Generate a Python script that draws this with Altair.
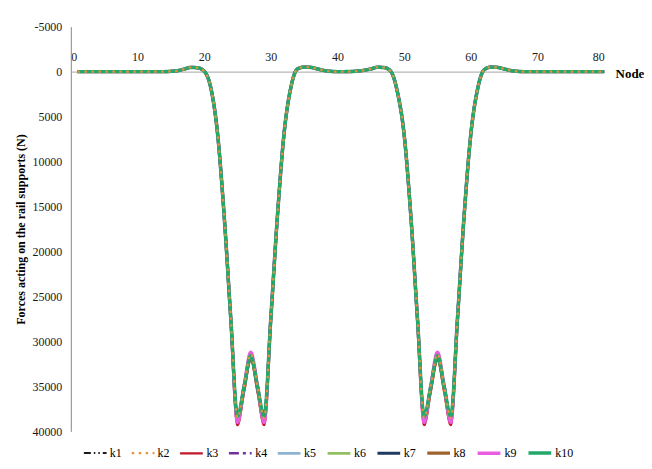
import altair as alt
import pandas as pd

# ---- data ----
nodes = list(range(1, 81))

# common force profile at every node (N); the wheel zones are per series below
force_base = [
    0, 0, 0, 0, 0, 0, 0, 0, 0, 0,            # 1-10
    0, 0, 0, 0, -30, -100, -280, -470, -430, -50,   # 11-20
    1800, 6800, 16000, 27500, 38700, 35000, 31500, 35000, 38700, 27500,  # 21-30
    16000, 6800, 1800, -300, -500, -470, -300, -120, -30, 0,  # 31-40
    0, -10, -60, -150, -300, -480, -450, -30, 2300, 7000,     # 41-50
    16000, 27500, 38700, 35000, 31500, 35000, 38700, 27500, 16000, 7000,  # 51-60
    2000, -200, -500, -470, -300, -120, -30, 0, 0, 0,         # 61-70
    0, 0, 0, 0, 0, 0, 0, 0, 0, 0,            # 71-80
]

# nodes under the two bogies, where the series differ
w_nodes_1 = [24, 25, 26, 27, 28, 29, 30]
w_nodes_2 = [52, 53, 54, 55, 56, 57, 58]

k1_w = [27500, 38700, 35000, 31500, 35000, 38700, 27500]
k2_w = [27400, 38500, 34900, 31400, 34900, 38500, 27400]
k3_w = [27800, 39300, 35600, 32000, 35600, 39300, 27800]
k4_w = [27300, 38800, 34800, 31200, 34800, 38800, 27300]
k5_w = [27500, 38600, 35000, 31500, 35000, 38600, 27500]
k6_w = [27400, 38400, 34900, 31500, 34900, 38400, 27400]
k7_w = [27500, 38600, 35000, 31600, 35000, 38600, 27500]
k8_w = [27600, 38900, 35200, 31700, 35200, 38900, 27600]
k9_w = [27400, 39000, 34900, 31200, 34900, 39000, 27400]
k10_w = [27500, 38300, 35000, 31600, 35000, 38300, 27500]

series_names = ["k1", "k2", "k3", "k4", "k5", "k6", "k7", "k8", "k9", "k10"]
series_w = [k1_w, k2_w, k3_w, k4_w, k5_w, k6_w, k7_w, k8_w, k9_w, k10_w]
series_colors = ["#1c1c1c", "#e8913e", "#c0182a", "#7030a0", "#8cb4d2",
                 "#92c060", "#1f3a5f", "#a0622d", "#e95ee0", "#22a86a"]
series_widths = [2, 3.5, 3, 4, 1.5, 1.5, 1.5, 1.5, 2, 2]
series_dashes = [[7, 3, 1.5, 3, 1.5, 3], [2.5, 4.5], [1, 0], [10, 4, 3, 4], [1, 0],
                 [1, 0], [1, 0], [1, 0], [1, 0], [1, 0]]

y_ticks = [-5000, 0, 5000, 10000, 15000, 20000, 25000, 30000, 35000, 40000]
x_ticks = [0, 10, 20, 30, 40, 50, 60, 70, 80]

# drawing order (k2 dots drawn on top, as in the reference)
draw_order = ["k1", "k3", "k4", "k5", "k6", "k7", "k8", "k9", "k10", "k2"]

rows = []
for name in draw_order:
    w = series_w[series_names.index(name)]
    override = dict(zip(w_nodes_1, w))
    override.update(dict(zip(w_nodes_2, w)))
    for n, v in zip(nodes, force_base):
        rows.append({"node": n, "force": override.get(n, v), "series": name})
df = pd.DataFrame(rows)

FONT = "Liberation Serif"
W, H = 535, 406
y_min, y_max = -5000, 40000
zero_offset = H * (0 - y_min) / (y_max - y_min)

legend = alt.Legend(
    title=None, orient="none", legendX=12, legendY=414, direction="horizontal",
    symbolType="stroke", symbolSize=520, labelFont=FONT, labelFontSize=12,
    labelColor="#000000", labelOffset=2, columnPadding=5, padding=0,
)

chart = alt.Chart(df).mark_line(interpolate="monotone", clip=False).encode(
    x=alt.X(
        "node:Q",
        scale=alt.Scale(domain=[0, 80], nice=False, zero=False),
        axis=alt.Axis(
            orient="top", values=x_ticks, offset=-zero_offset, ticks=False,
            grid=False, domainColor="#a6a6a6", domainWidth=1, labelPadding=8,
            labelFont=FONT, labelFontSize=12, labelColor="#1a1a1a",
            title="Node", titleFont=FONT, titleFontSize=13, titleFontWeight="bold",
            titleColor="#000000", titleX=W + 11, titleY=2, titleAlign="left",
            titleBaseline="middle", titleAngle=0, zindex=0,
        ),
    ),
    y=alt.Y(
        "force:Q",
        scale=alt.Scale(domain=[y_min, y_max], reverse=True, nice=False, zero=False),
        axis=alt.Axis(
            values=y_ticks, labelExpr="'' + datum.value", ticks=False, grid=False,
            domainColor="#868686", domainWidth=1, labelPadding=9,
            labelFont=FONT, labelFontSize=12, labelColor="#1a1a1a",
            title="Forces acting on the rail supports (N)", titleFont=FONT,
            titleFontSize=12, titleFontWeight="bold", titleColor="#000000",
            titlePadding=4,
        ),
    ),
    color=alt.Color("series:N", scale=alt.Scale(domain=series_names, range=series_colors), legend=legend),
    strokeDash=alt.StrokeDash("series:N", scale=alt.Scale(domain=series_names, range=series_dashes), legend=legend),
    strokeWidth=alt.StrokeWidth("series:N", scale=alt.Scale(domain=series_names, range=series_widths), legend=legend),
).properties(
    width=W, height=H,
    autosize=alt.AutoSizeParams(type="none"),
    padding={"left": 63, "top": 18, "right": 40, "bottom": 29},
).configure_view(
    stroke=None
).configure_axis(
    labelFont=FONT, titleFont=FONT
).configure_legend(
    labelFont=FONT
).configure_text(font=FONT)

chart.save("out.html", embed_options={"renderer": "svg", "actions": False})
